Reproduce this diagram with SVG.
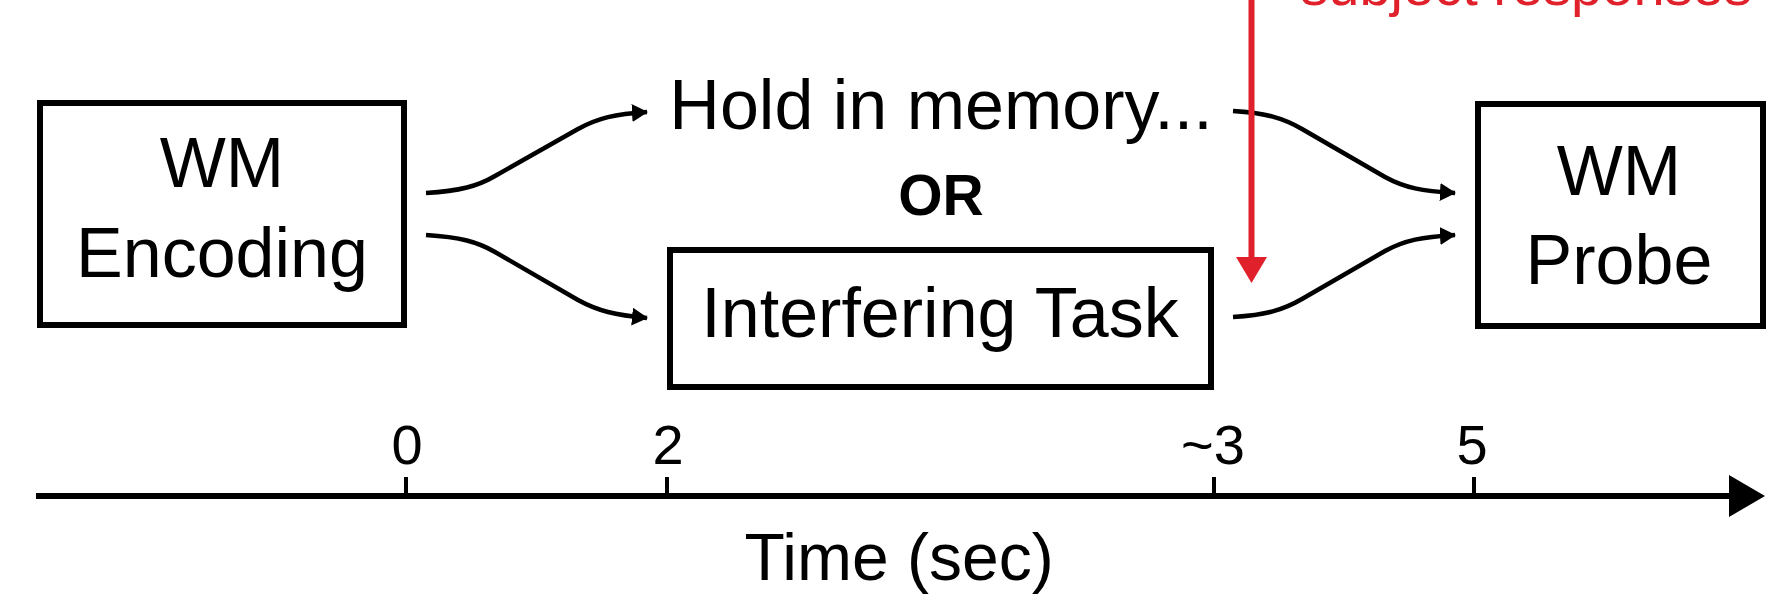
<svg xmlns="http://www.w3.org/2000/svg" width="1787" height="596" viewBox="0 0 1787 596">
<style>
.box{fill:#fff;stroke:#000;stroke-width:6}
.t{font-family:"Liberation Sans",Arial,sans-serif;fill:#000;text-anchor:middle}
.big{font-size:70px}
.tick{font-size:56px}
.conn{fill:none;stroke:#000;stroke-width:4.5}
.red{fill:#e0202a}
</style>
<defs>
<marker id="ah" markerUnits="userSpaceOnUse" viewBox="0 0 16 18" refX="15" refY="9" markerWidth="16" markerHeight="18" orient="auto">
<path d="M0,0 L16,9 L0,18 z" fill="#000"/>
</marker>
</defs>
<rect width="1787" height="596" fill="#fff"/>

<g id="wm-encoding">
<rect class="box" x="40" y="103" width="364" height="222"/>
<text class="t big" x="222" y="187">WM</text>
<text class="t big" x="222" y="277">Encoding</text>
</g>

<g id="hold-in-memory">
<text class="t big" x="941" y="129">Hold in memory...</text>
</g>

<g id="or-label">
<text class="t" x="941" y="215" style="font-size:57px;font-weight:bold">OR</text>
</g>

<g id="interfering-task">
<rect class="box" x="670" y="250" width="541" height="137"/>
<text class="t big" x="940" y="337">Interfering Task</text>
</g>

<g id="wm-probe">
<rect class="box" x="1478" y="104" width="285" height="222"/>
<text class="t big" x="1619" y="195">WM</text>
<text class="t big" x="1619" y="284">Probe</text>
</g>

<g id="connectors">
<path class="conn" marker-end="url(#ah)" d="M426,193 C460,191 478,186 495,176 L578,129 C598,118 615,114 647,112"/>
<path class="conn" marker-end="url(#ah)" d="M426,235 C460,237 478,242 495,252 L578,300 C598,311 615,315 647,318"/>
<path class="conn" marker-end="url(#ah)" d="M1233,111 C1266,113 1283,118 1302,129 L1385,177 C1405,188 1422,191 1455,193"/>
<path class="conn" marker-end="url(#ah)" d="M1233,317 C1266,315 1283,310 1302,299 L1385,251 C1405,240 1422,237 1455,235"/>
</g>

<g id="subject-responses">
<line x1="1251.5" y1="0" x2="1251.5" y2="260" stroke="#e0202a" stroke-width="6"/>
<polygon class="red" points="1236,257 1267,257 1251.5,283"/>
<text x="1526" y="5" style="font-family:'Liberation Sans',Arial,sans-serif;font-size:56px;fill:#e0202a;text-anchor:middle">subject responses</text>
</g>

<g id="time-axis">
<line x1="36" y1="496" x2="1732" y2="496" stroke="#000" stroke-width="6"/>
<polygon points="1729,475 1765,496 1729,517" fill="#000"/>
<g stroke="#000" stroke-width="4">
<line x1="406" y1="477" x2="406" y2="496"/>
<line x1="667" y1="477" x2="667" y2="496"/>
<line x1="1214" y1="477" x2="1214" y2="496"/>
<line x1="1474" y1="477" x2="1474" y2="496"/>
</g>
<text class="t tick" x="407" y="464">0</text>
<text class="t tick" x="668" y="464">2</text>
<text class="t tick" x="1213" y="464">~3</text>
<text class="t tick" x="1472" y="464">5</text>
<text class="t" x="899" y="580" style="font-size:66px">Time (sec)</text>
</g>
</svg>
